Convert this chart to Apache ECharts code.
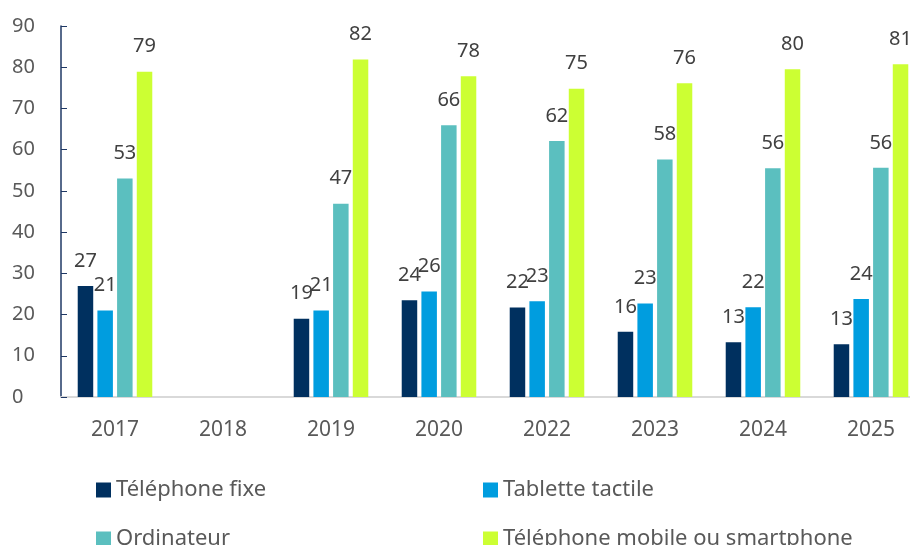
<!DOCTYPE html>
<html>
<head>
<meta charset="utf-8">
<script src="https://cdn.jsdelivr.net/npm/echarts@6/dist/echarts.min.js"></script>
<style>
  html, body { margin: 0; padding: 0; background: #fff; }
  #chart { width: 910px; height: 545px; }
</style>
</head>
<body>
<div id="chart"></div>
<script>
const years = ['2017', '2018', '2019', '2020', '2022', '2023', '2024', '2025']
const fixe = [26.9, null, 19.0, 23.5, 21.7, 15.8, 13.3, 12.8]
const tablette = [21.0, null, 21.0, 25.6, 23.2, 22.7, 21.8, 23.8]
const ordinateur = [53.0, null, 46.9, 65.9, 62.1, 57.6, 55.5, 55.6]
const mobile = [78.9, null, 81.9, 77.8, 74.8, 76.1, 79.5, 80.7]
const seriesNames = ['Téléphone fixe', 'Tablette tactile', 'Ordinateur', 'Téléphone mobile ou smartphone']
const seriesColors = ['#00305F', '#009DDF', '#5BBFBF', '#CCFF33']

const font = 'Noto Sans'

const makeBar = (name, data, color) => ({
  name,
  type: 'bar',
  data,
  barWidth: 15.5,
  barGap: '27%',
  itemStyle: { color },
  label: {
    show: true,
    position: 'top',
    distance: 15,
    color: '#404040',
    fontFamily: font,
    fontSize: 20,
    formatter: p => Math.round(p.value)
  }
})

// one legend per item, laid out as a 2 x 2 block
const legendPos = [[91, 474], [478, 474], [91, 523], [478, 523]]
const legends = seriesNames.map((name, i) => ({
  left: legendPos[i][0],
  top: legendPos[i][1],
  data: [name],
  icon: 'rect',
  itemWidth: 15,
  itemHeight: 15,
  textStyle: { color: '#595959', fontFamily: font, fontSize: 22 }
}))

const chart = echarts.init(document.getElementById('chart'))
chart.setOption({
  animation: false,
  grid: { left: 61, top: 26, width: 864, height: 371, outerBoundsMode: 'none' },
  legend: legends,
  xAxis: {
    type: 'category',
    data: years,
    axisLine: { lineStyle: { color: '#D9D9D9', width: 2 } },
    axisTick: { show: false },
    axisLabel: { color: '#595959', fontFamily: font, fontSize: 21, margin: 23 }
  },
  yAxis: {
    type: 'value',
    min: 0,
    max: 90,
    interval: 10,
    axisLine: { show: true, lineStyle: { color: '#1F3864', width: 1.5 } },
    axisTick: { show: true, inside: true, length: 6, lineStyle: { color: '#1F3864' } },
    splitLine: { show: false },
    axisLabel: { color: '#595959', fontFamily: font, fontSize: 20, align: 'left', margin: 49 }
  },
  series: [
    makeBar(seriesNames[0], fixe, seriesColors[0]),
    makeBar(seriesNames[1], tablette, seriesColors[1]),
    makeBar(seriesNames[2], ordinateur, seriesColors[2]),
    makeBar(seriesNames[3], mobile, seriesColors[3])
  ]
})
</script>
</body>
</html>
